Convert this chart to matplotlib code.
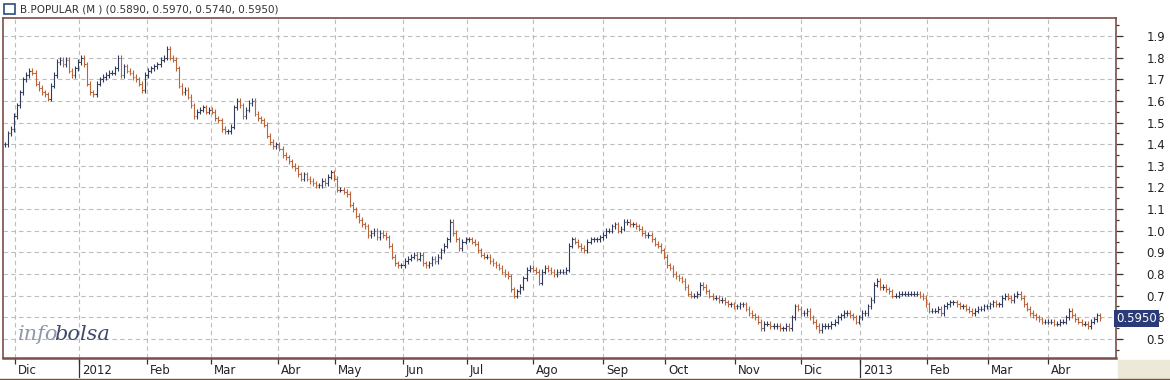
import matplotlib
matplotlib.use("Agg")
import matplotlib.pyplot as plt
from matplotlib.collections import LineCollection
from matplotlib.patches import Rectangle
import matplotlib.transforms as mtransforms

# cierres diarios (nov 2011 - abr 2013)
closes = [
    1.40, 1.45, 1.47, 1.53,
    1.58, 1.64, 1.70, 1.72, 1.74, 1.73, 1.68,
    1.66, 1.64, 1.63, 1.61, 1.67, 1.72,
    1.78, 1.79, 1.77, 1.79, 1.74, 1.72, 1.75, 1.78,
    1.80, 1.77, 1.68, 1.64, 1.63, 1.68, 1.70, 1.71,
    1.72, 1.73, 1.73, 1.75, 1.80, 1.72, 1.76, 1.74,
    1.73, 1.71, 1.70, 1.68, 1.65, 1.72, 1.74, 1.75,
    1.76, 1.77, 1.79, 1.80, 1.84, 1.80, 1.79, 1.75,
    1.67, 1.64, 1.65, 1.62, 1.58, 1.53, 1.55, 1.56,
    1.57, 1.55, 1.56, 1.55, 1.52, 1.51, 1.47, 1.46,
    1.46, 1.48, 1.57, 1.60, 1.58, 1.53, 1.56, 1.59,
    1.60, 1.54, 1.52, 1.51, 1.49, 1.44, 1.41, 1.39,
    1.40, 1.38, 1.35, 1.34, 1.32, 1.30, 1.29, 1.26,
    1.24, 1.26, 1.24, 1.23, 1.22, 1.21, 1.21, 1.23,
    1.22, 1.25, 1.27, 1.24, 1.19, 1.19, 1.18, 1.17,
    1.12, 1.10, 1.07, 1.05, 1.03, 1.02, 0.98, 0.99,
    1.00, 0.97, 0.99, 0.98, 0.97, 0.93, 0.88, 0.85,
    0.84, 0.84, 0.86, 0.87, 0.88, 0.89, 0.87, 0.89,
    0.85, 0.84, 0.85, 0.87, 0.86, 0.88, 0.91, 0.93,
    0.96, 1.04, 0.99, 0.96, 0.92, 0.95, 0.96, 0.96,
    0.95, 0.94, 0.91, 0.89, 0.88, 0.88, 0.86, 0.85,
    0.84, 0.83, 0.81, 0.80, 0.79, 0.73, 0.70, 0.72,
    0.74, 0.78, 0.82, 0.83, 0.82, 0.81, 0.76, 0.81,
    0.83, 0.82, 0.81, 0.80, 0.81, 0.81, 0.81, 0.82,
    0.93, 0.96, 0.95, 0.93, 0.92, 0.91, 0.95, 0.96,
    0.96, 0.96, 0.97, 0.98, 1.00, 1.00, 1.02, 1.03,
    1.00, 1.01, 1.04, 1.04, 1.03, 1.03, 1.02, 1.01,
    0.99, 0.98, 0.98, 0.96, 0.94, 0.93, 0.91, 0.88,
    0.84, 0.83, 0.80, 0.79, 0.78, 0.77, 0.74, 0.71,
    0.70, 0.70, 0.71, 0.75, 0.74, 0.72, 0.70, 0.69,
    0.69, 0.68, 0.68, 0.67, 0.66, 0.66, 0.65, 0.65,
    0.66, 0.66, 0.64, 0.62, 0.61, 0.60, 0.58, 0.55,
    0.57, 0.57, 0.56, 0.56, 0.56, 0.55, 0.55, 0.56,
    0.55, 0.60, 0.65, 0.64, 0.62, 0.62, 0.63, 0.60,
    0.58, 0.56, 0.54, 0.56, 0.56, 0.56, 0.57, 0.58,
    0.60, 0.61, 0.62, 0.62, 0.61, 0.60, 0.58, 0.60,
    0.62, 0.62, 0.65, 0.68, 0.75, 0.77, 0.74, 0.74,
    0.73, 0.72, 0.70, 0.70, 0.71, 0.71, 0.71, 0.71,
    0.71, 0.71, 0.71, 0.70, 0.69, 0.66, 0.63, 0.63,
    0.63, 0.64, 0.62, 0.65, 0.66, 0.67, 0.67, 0.66,
    0.65, 0.65, 0.64, 0.63, 0.62, 0.63, 0.64, 0.64,
    0.65, 0.65, 0.66, 0.67, 0.66, 0.66, 0.69, 0.70,
    0.69, 0.68, 0.70, 0.71, 0.69, 0.66, 0.64, 0.62,
    0.61, 0.60, 0.59, 0.58, 0.58, 0.58, 0.58, 0.57,
    0.57, 0.58, 0.58, 0.60, 0.63, 0.61, 0.59, 0.58,
    0.57, 0.57, 0.56, 0.58, 0.59, 0.61, 0.595,
]

month_labels = ["Dic", "2012", "Feb", "Mar", "Abr", "May", "Jun", "Jul", "Ago",
                "Sep", "Oct", "Nov", "Dic", "2013", "Feb", "Mar", "Abr"]
month_pos = [3.3, 24.3, 46.6, 67.5, 89.5, 108.2, 130.5, 151.5, 173.1,
             196.1, 216.4, 239.3, 261, 280.3, 302.3, 322.3, 342]
y_ticks = [0.5, 0.6, 0.7, 0.8, 0.9, 1.0, 1.1, 1.2, 1.3, 1.4, 1.5, 1.6, 1.7, 1.8, 1.9]

title = "B.POPULAR (M ) (0.5890, 0.5970, 0.5740, 0.5950)"
last_price = "0.5950"

UP = "#2f3a5c"
DOWN = "#b8653c"
AXC = "#7a4f47"

W, H = 1170, 380
fig = plt.figure(figsize=(W / 100, H / 100), dpi=100)
fig.patch.set_facecolor("white")

# zona beige abajo a la derecha
fig.patches.append(Rectangle((1118 / W, 0), 1 - 1118 / W, 20 / H,
                             transform=fig.transFigure, color="#ece9d8", zorder=0))

ax = fig.add_axes([3 / W, 22 / H, (1116 - 3) / W, (358 - 18) / H])
ax.set_xlim(-0.66, 364.3)
ax.set_ylim(0.412, 1.983)

# barras OHLC
segs_up, segs_dn = [], []
pad = 0.012
prev = closes[0]
for i, c in enumerate(closes):
    o = prev
    hi = max(o, c) + pad
    lo = min(o, c) - pad
    s = [[(i, lo), (i, hi)], [(i - 0.45, o), (i, o)], [(i, c), (i + 0.45, c)]]
    if c >= o:
        segs_up += s
    else:
        segs_dn += s
    prev = c
ax.add_collection(LineCollection(segs_up, colors=UP, linewidths=0.8, zorder=3))
ax.add_collection(LineCollection(segs_dn, colors=DOWN, linewidths=0.8, zorder=3))

# rejilla
for p in month_pos:
    ax.axvline(p, color="#bdbdbd", lw=0.8, ls=(0, (4, 3)), zorder=1)
for t in y_ticks:
    ax.axhline(t, color="#bdbdbd", lw=0.8, ls=(0, (4, 3)), zorder=1)

# eje y a la derecha
ax.yaxis.tick_right()
ax.set_yticks(y_ticks)
ax.set_yticklabels([f"{t:.1f}" for t in y_ticks], fontsize=8.5, color="#222222")
ax.set_yticks([t + 0.05 for t in y_ticks[:-1]] + [0.45, 1.95], minor=True)
ax.tick_params(axis="y", which="major", length=5, width=0.9, color="#333333", pad=17)
ax.tick_params(axis="y", which="minor", length=2.5, width=0.9, color="#333333")

# eje x con etiquetas a la derecha de cada marca
ax.set_xticks(month_pos)
ax.set_xticklabels([])
ax.tick_params(axis="x", length=4, width=0.9, color="#333333")
trans = mtransforms.blended_transform_factory(ax.transData, ax.transAxes)
for lab, p in zip(month_labels, month_pos):
    ax.text(p + 1.0, -0.036, lab, transform=trans, ha="left", va="center",
            fontsize=8.5, color="#222222")
    if lab.isdigit():
        ax.plot([p, p], [-0.005, -0.055], transform=trans, color="#333333",
                lw=0.9, clip_on=False)

for side in ["top", "right", "left"]:
    ax.spines[side].set_color(AXC)
    ax.spines[side].set_linewidth(1.2)
ax.spines["bottom"].set_color(AXC)
ax.spines["bottom"].set_linewidth(1.8)
ax.spines["bottom"].set_linestyle((0, (3, 1)))

# ultimo precio
ax.text(1.0, 0.595, last_price, transform=mtransforms.blended_transform_factory(
    ax.transAxes, ax.transData), ha="left", va="center", fontsize=8.5, color="white",
    bbox=dict(boxstyle="square,pad=0.15", fc="#2b3a78", ec="none"), zorder=10,
    clip_on=False)

# logo
renderer = fig.canvas.get_renderer()
t1 = fig.text(18 / W, 1 - 335 / H, "info", fontsize=15, family="DejaVu Serif",
              style="italic", color="#8e97ab", va="center")
x1 = t1.get_window_extent(renderer).x1
fig.text((x1 - 4) / W, 1 - 335 / H, "bolsa", fontsize=15, family="DejaVu Serif",
         style="italic", color="#3d4a6a", va="center")

# barra de titulo
fig.text(20 / W, 1 - 9 / H, title, fontsize=7.5, color="#333333", va="center")
fig.patches.append(Rectangle((4 / W, 1 - 14 / H), 11 / W, 10 / H, transform=fig.transFigure,
                             fill=False, ec="#2a4d7a", lw=1.2))
fig.lines.append(plt.Line2D([0, 1], [1 - 379 / H, 1 - 379 / H], transform=fig.transFigure,
                            color=AXC, lw=1))

fig.savefig("out.png", dpi=100)
